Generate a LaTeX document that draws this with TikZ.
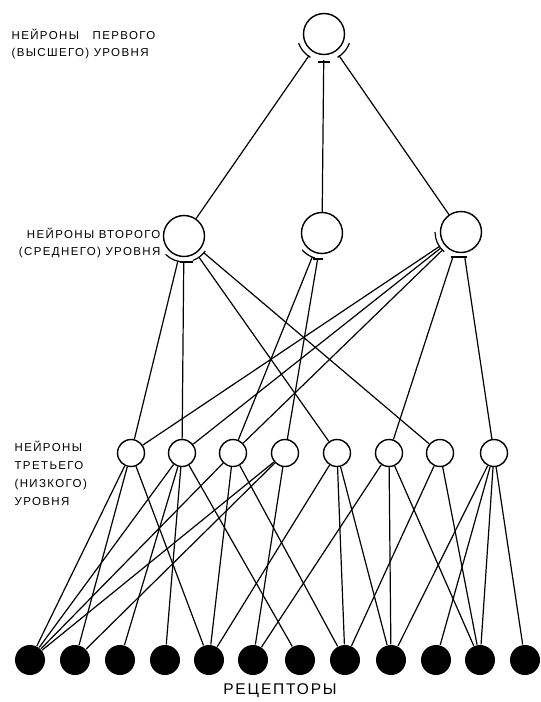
\documentclass[tikz,border=0pt]{standalone}
\usepackage{fontspec}
\setmainfont{Liberation Sans}
\newfontfamily\lblfont[LetterSpace=12]{Liberation Sans}
\begin{document}
\begin{tikzpicture}[x=1pt,y=-1pt,line width=1.2pt,
  neuron/.style={circle,draw,inner sep=0pt,line width=1.4pt},
  big/.style={neuron,minimum size=41pt},
  small/.style={neuron,minimum size=27pt},
  receptor/.style={circle,fill=black,inner sep=0pt,minimum size=30pt},
  lbl/.style={font=\lblfont\fontsize{11.5}{16.5}\selectfont,align=left,inner sep=0pt},
  syn/.style={shorten >=5pt}]
\useasboundingbox (0,0) rectangle (541,702);

% first level
\node[big] (a) at (324,34) {};
% second level
\node[big] (b1) at (184,236) {};
\node[big] (b2) at (322,233) {};
\node[big] (b3) at (461,232) {};
% third level
\foreach \i/\x in {1/131,2/182,3/233,4/285,5/337,6/389,7/440,8/494}
  \node[small] (c\i) at (\x,453) {};
% receptors
\foreach \i/\x in {1/30,2/75,3/120,4/165,5/209,6/253,7/300,8/345,9/391,10/436,11/480,12/525}
  \node[receptor] (r\i) at (\x,660) {};

% labels
\node[lbl,anchor=west] (t1) at (11,44) {НЕЙРОНЫ\ \ \ ПЕРВОГО\\(ВЫСШЕГО) УРОВНЯ};
\node[lbl,anchor=east,align=right] (t2) at (161,243) {НЕЙРОНЫ ВТОРОГО\\(СРЕДНЕГО) УРОВНЯ};
\node[lbl,anchor=north west,font=\lblfont\fontsize{11.5}{18}\selectfont] (t3) at (14,441) {НЕЙРОНЫ\\ТРЕТЬЕГО\\(НИЗКОГО)\\УРОВНЯ};
\node[font=\lblfont\fontsize{15.5}{18}\selectfont,inner sep=0pt] (t4) at (280,691) {РЕЦЕПТОРЫ};

% second level to first level
\draw[syn] (b1) -- (a);
\draw[syn] (b2) -- (a);
\draw[syn] (b3) -- (a);
\draw ([shift={(120:27)}]a.center) arc (120:160:27);
\draw ([shift={(20:27)}]a.center) arc (20:60:27);
\draw ([shift={(-6,28)}]a.center) -- ++(12,0);

% third level to second level
\foreach \c in {1,2,5,7} \draw[syn] (c\c) -- (b1);
\foreach \c in {3,4} \draw[syn] (c\c) -- (b2);
\foreach \c in {1,2,3,6,8} \draw[syn] (c\c) -- (b3);
\draw ([shift={(85:26)}]b1.center) arc (85:135:26);
\draw ([shift={(35:26)}]b1.center) arc (35:70:26);
\draw ([shift={(-4,26)}]b1.center) -- ++(13,0);
\draw ([shift={(106:26)}]b2.center) arc (106:140:26);
\draw ([shift={(-9,26)}]b2.center) -- ++(10,0);
\draw ([shift={(130:26)}]b3.center) arc (130:180:26);
\draw ([shift={(-10,25)}]b3.center) -- ++(16,0);

% receptors to third level
\foreach \c/\r in {1/1,1/2,1/5,
                   2/1,2/3,2/4,2/7,
                   3/1,3/5,3/8,
                   4/1,4/2,4/6,
                   5/5,5/8,5/9,
                   6/6,6/9,6/11,
                   7/8,7/11,
                   8/9,8/10,8/11,8/12}
  \draw (r\r) -- (c\c);
\end{tikzpicture}
\end{document}
